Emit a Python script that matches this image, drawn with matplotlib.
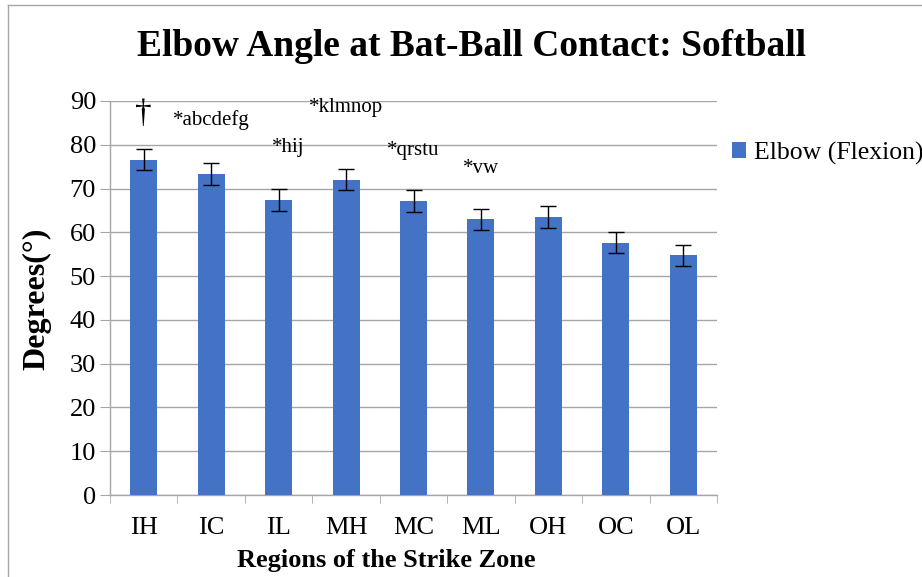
import matplotlib
matplotlib.use("Agg")
import matplotlib.pyplot as plt
from matplotlib.lines import Line2D

regions = ["IH", "IC", "IL", "MH", "MC", "ML", "OH", "OC", "OL"]
elbow_flexion = [76.6, 73.4, 67.3, 72.0, 67.1, 63.0, 63.5, 57.6, 54.8]
elbow_err = [2.4, 2.5, 2.5, 2.4, 2.5, 2.4, 2.5, 2.4, 2.4]

# significance markers: label, category position, y value
marks = ["\u2020", "*abcdefg", "*hij", "*klmnop", "*qrstu", "*vw"]
mark_x = [0, 1, 2.15, 3, 4, 5]
mark_y = [87.0, 85.6, 79.3, 88.6, 78.8, 74.5]

plt.rcParams['font.family'] = ['Liberation Serif', 'DejaVu Serif']

blue = "#4472C4"
grid_gray = "#a6a6a6"

fig = plt.figure(figsize=(9.22, 5.77), dpi=100)
ax = fig.add_axes([110 / 922, 1 - 495 / 577, 607 / 922, 394 / 577])

x = list(range(len(regions)))
ax.bar(x, elbow_flexion, width=0.4, color=blue, zorder=3, label="Elbow (Flexion)")
ax.errorbar(x, elbow_flexion, yerr=elbow_err, fmt="none", ecolor="black",
            elinewidth=1, capsize=6, capthick=1, zorder=4)

for lab, mx, my in zip(marks, mark_x, mark_y):
    fs = 24 if lab == "\u2020" else 15
    ax.text(mx, my, lab, ha="center", va="center", fontsize=fs, zorder=5)

ax.set_xlim(-0.5, len(regions) - 0.5)
ax.set_ylim(0, 90)
ax.set_yticks(range(0, 91, 10))
ax.yaxis.grid(True, color=grid_gray, linewidth=1, zorder=0)
ax.set_axisbelow(True)

# category labels centered, tick marks between categories
ax.set_xticks(x)
ax.set_xticklabels(regions, fontsize=19)
ax.tick_params(axis="x", length=0, pad=16)
ax.set_xticks([i - 0.5 for i in range(len(regions) + 1)], minor=True)
ax.tick_params(axis="x", which="minor", length=6, color=grid_gray, direction="out")
ax.tick_params(axis="y", labelsize=19, length=7, color=grid_gray, pad=3)

for side in ["top", "right"]:
    ax.spines[side].set_visible(False)
for side in ["left", "bottom"]:
    ax.spines[side].set_color(grid_gray)
    ax.spines[side].set_linewidth(1)

ax.set_ylabel("Degrees(\u00b0)", fontsize=23, fontweight="bold")
ax.yaxis.set_label_coords((37 - 110) / 607, (495 - 299) / 394)
ax.set_xlabel("Regions of the Strike Zone", fontsize=19, fontweight="bold")
ax.xaxis.set_label_coords((386 - 110) / 607, (495 - 561) / 394)
ax.xaxis.label.set_va("center")
ax.yaxis.label.set_va("center")

fig.text(471 / 922, 1 - 47 / 577, "Elbow Angle at Bat-Ball Contact: Softball",
         ha="center", va="center", fontsize=27, fontweight="bold")

ax.legend(loc="center left", bbox_to_anchor=(732 / 922, 1 - 153 / 577),
          bbox_transform=fig.transFigure, frameon=False, fontsize=18.5,
          handlelength=0.55, handleheight=0.55, handletextpad=0.3,
          borderpad=0, borderaxespad=0)

# outer frame of the source document
fig.add_artist(Line2D([8 / 922, 1], [1 - 5 / 577, 1 - 5 / 577], color=grid_gray, linewidth=1))
fig.add_artist(Line2D([8 / 922, 8 / 922], [0, 1 - 5 / 577], color=grid_gray, linewidth=1))

fig.savefig("out.png", dpi=100)
